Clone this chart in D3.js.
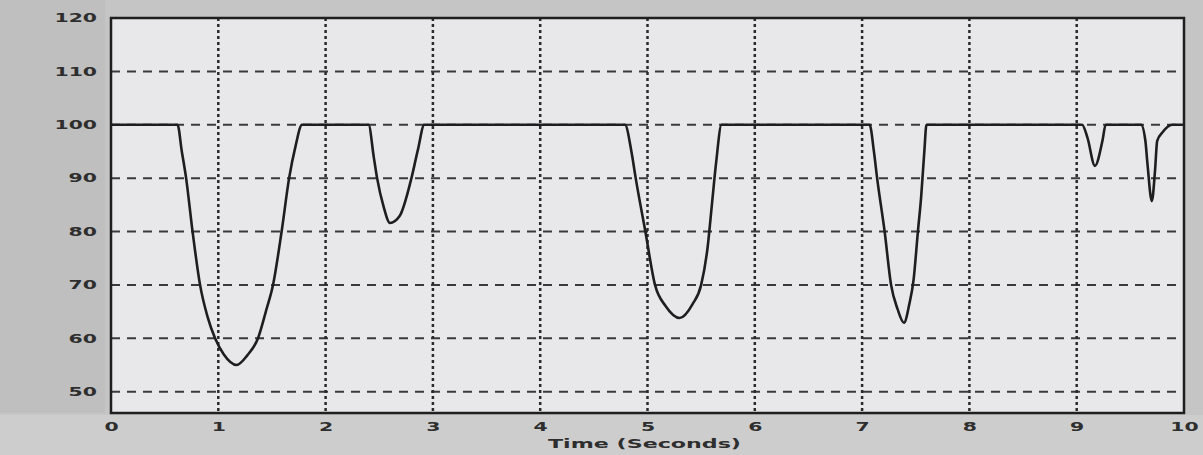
<!DOCTYPE html>
<html>
<head>
<meta charset="utf-8">
<script src="https://cdn.jsdelivr.net/npm/d3@7.9.0/dist/d3.min.js"></script>
<style>
  html, body { margin: 0; padding: 0; background: #c6c6c6; }
  svg { display: block; }
  .tick text { font-family: "DejaVu Sans", sans-serif; font-weight: bold; fill: #2e2e2e; }
</style>
</head>
<body>
<div id="chart"></div>
<script>
// signal: time in seconds, value
const times = [
  0, 0.62, 0.66, 0.70, 0.76, 0.83, 0.90, 0.97, 1.05, 1.17,
  1.27, 1.37, 1.45, 1.51, 1.59, 1.66, 1.72, 1.78,
  2.40, 2.45, 2.48, 2.54, 2.60, 2.69, 2.80, 2.86, 2.92,
  4.79, 4.85, 4.89, 4.98, 5.07, 5.17, 5.30, 5.42, 5.50, 5.56, 5.60, 5.64, 5.69,
  7.07, 7.11, 7.14, 7.21, 7.27, 7.33, 7.39, 7.44, 7.48, 7.52, 7.55, 7.58, 7.60,
  9.05, 9.10, 9.17, 9.24, 9.27,
  9.60, 9.64, 9.66, 9.70, 9.73, 9.75, 9.80, 9.89, 10
];
const values = [
  100, 100, 95, 90, 80, 70, 64, 60, 57, 55,
  56.8, 60, 65.5, 70, 80, 90, 96, 100,
  100, 93.8, 90, 84.7, 81.6, 82.9, 90, 95.3, 100,
  100, 95, 90, 80, 70, 66, 63.8, 66.4, 70, 77, 85, 93, 100,
  100, 95, 90, 80, 70, 65.5, 62.9, 66.4, 71, 80, 86.4, 95, 100,
  100, 97.6, 92.3, 97, 100,
  100, 97, 92.6, 85.7, 91.4, 97, 98.6, 100, 100
];
const xTicks = [0, 1, 2, 3, 4, 5, 6, 7, 8, 9, 10];
const yTicks = [50, 60, 70, 80, 90, 100, 110, 120];
const xLabel = 'Time (Seconds)';

const data = times.map((t, i) => ({ t: t, v: values[i] }));

const width = 1203;
const height = 455;
const margin = { top: 18, right: 19, bottom: 42, left: 111 };
const plotW = width - margin.left - margin.right;
const plotH = height - margin.top - margin.bottom;

const svg = d3.select('#chart')
  .append('svg')
  .attr('width', width)
  .attr('height', height);

// backdrop panels
svg.append('rect').attr('width', width).attr('height', height).attr('fill', '#c5c5c5');
svg.append('rect').attr('x', 0).attr('y', 0).attr('width', margin.left - 6).attr('height', margin.top + plotH)
  .attr('fill', '#bfbfbf');
svg.append('rect').attr('x', 0).attr('y', margin.top + plotH + 2).attr('width', width).attr('height', margin.bottom)
  .attr('fill', '#cdcdcd');

const g = svg.append('g').attr('transform', `translate(${margin.left},${margin.top})`);

const x = d3.scaleLinear().domain([0, 10]).range([0, plotW]);
const y = d3.scaleLinear().domain([46, 120]).range([plotH, 0]);

g.append('rect').attr('width', plotW).attr('height', plotH).attr('fill', '#e8e8ea');

// horizontal dashed grid
g.append('g')
  .selectAll('line')
  .data(yTicks.filter(d => d < 120))
  .join('line')
  .attr('x1', 0).attr('x2', plotW)
  .attr('y1', d => y(d)).attr('y2', d => y(d))
  .attr('stroke', '#3a3a3a')
  .attr('stroke-width', 2)
  .attr('stroke-dasharray', '9,7');

// vertical dotted grid
g.append('g')
  .selectAll('line')
  .data(xTicks.filter(d => d > 0 && d < 10))
  .join('line')
  .attr('x1', d => x(d)).attr('x2', d => x(d))
  .attr('y1', 0).attr('y2', plotH)
  .attr('stroke', '#2a2a2a')
  .attr('stroke-width', 2.5)
  .attr('stroke-dasharray', '3,3');

// signal
const line = d3.line()
  .x(d => x(d.t))
  .y(d => y(d.v))
  .curve(d3.curveMonotoneX);

g.append('path')
  .datum(data)
  .attr('fill', 'none')
  .attr('stroke', '#1e1e1e')
  .attr('stroke-width', 2.6)
  .attr('stroke-linejoin', 'round')
  .attr('d', line);

// frame
g.append('rect')
  .attr('width', plotW).attr('height', plotH)
  .attr('fill', 'none')
  .attr('stroke', '#1f1f1f')
  .attr('stroke-width', 2.5);

// axes (labels only, the frame is drawn above)
const sx = 1.7;
const yAxis = g.append('g')
  .call(d3.axisLeft(y).tickValues(yTicks).tickSize(0).tickFormat(d3.format('d')));
yAxis.select('.domain').remove();
yAxis.selectAll('.tick text')
  .attr('font-size', 12)
  .attr('x', -14 / sx)
  .attr('transform', `scale(${sx},1)`);

const xAxis = g.append('g')
  .attr('transform', `translate(0,${plotH})`)
  .call(d3.axisBottom(x).tickValues(xTicks).tickSize(0).tickFormat(d3.format('d')));
xAxis.select('.domain').remove();
xAxis.selectAll('.tick text')
  .attr('font-size', 12)
  .attr('y', 9)
  .attr('transform', `scale(${sx},1)`);

g.append('text')
  .attr('x', plotW / 2 - 3)
  .attr('y', plotH + 35)
  .attr('text-anchor', 'middle')
  .attr('font-family', 'DejaVu Sans, sans-serif')
  .attr('font-weight', 'bold')
  .attr('font-size', 13)
  .attr('fill', '#2e2e2e')
  .attr('textLength', 193)
  .attr('lengthAdjust', 'spacingAndGlyphs')
  .text(xLabel);
</script>
</body>
</html>
